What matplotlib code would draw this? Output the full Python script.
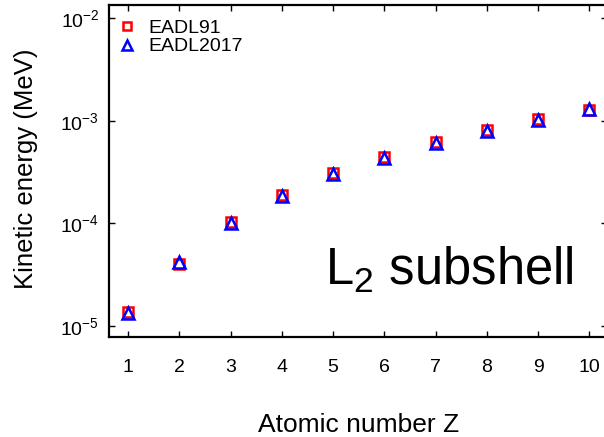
import matplotlib
matplotlib.use("Agg")
import matplotlib.pyplot as plt

plt.rcParams['font.family'] = ['Liberation Sans', 'DejaVu Sans']
plt.rcParams['mathtext.fontset'] = 'custom'
plt.rcParams['mathtext.rm'] = 'Liberation Sans'
plt.rcParams['mathtext.it'] = 'Liberation Sans:italic'
plt.rcParams['mathtext.bf'] = 'Liberation Sans:bold'

# L2 subshell kinetic energies (MeV) vs atomic number
Z = [1, 2, 3, 4, 5, 6, 7, 8, 9, 10]
eadl91 = [1.37e-5, 3.97e-5, 1.03e-4, 1.90e-4, 3.07e-4, 4.45e-4, 6.19e-4, 8.17e-4, 1.04e-3, 1.28e-3]
eadl2017 = [1.34e-5, 4.17e-5, 1.00e-4, 1.84e-4, 3.01e-4, 4.36e-4, 6.05e-4, 7.97e-4, 1.02e-3, 1.29e-3]
labels = ["EADL91", "EADL2017"]
xticks = [1, 2, 3, 4, 5, 6, 7, 8, 9, 10]

W, H = 604, 437
fig = plt.figure(figsize=(W / 100, H / 100), dpi=100)
ax = fig.add_axes([109 / W, 100 / H, 497.5 / W, 332 / H])

ax.plot(Z, eadl91, linestyle='none', marker='s', ms=7.8, mfc='none',
        mec='#ff0000', mew=1.8, label=labels[0])
ax.plot(Z, eadl2017, linestyle='none', marker='^', ms=9.2, mfc='none',
        mec='#0000ff', mew=1.8, label=labels[1])

ax.set_yscale('log')
ax.set_xlim(0.629, 10.336)
ax.set_ylim(10 ** -5.110, 10 ** -1.871)
ax.set_xticks(xticks)
ax.set_xticklabels([str(v) for v in xticks])
ax.minorticks_off()

for s in ax.spines.values():
    s.set_linewidth(1.6)
ax.tick_params(axis='both', which='both', direction='in', top=True, right=True,
               length=4, width=1.0, labelsize=14)
ax.tick_params(axis='x', pad=15.5)
ax.tick_params(axis='y', pad=7)

ax.set_xlabel("Atomic number Z", fontsize=19)
ax.set_ylabel("Kinetic energy (MeV)", fontsize=18.5)
ax.xaxis.set_label_coords(0.5015, -0.228)
ax.yaxis.set_label_coords(-0.142, 0.506)

ax.text(0.434, 0.157, r"L$_\mathrm{2}$ subshell", transform=ax.transAxes,
        fontsize=36.5, ha='left', va='baseline')

ax.legend(loc='upper left', bbox_to_anchor=(0.0173, 0.957), frameon=False,
          fontsize=14, markerscale=0.72, handlelength=0.97,
          handletextpad=0.62, labelspacing=0.05, borderpad=0, borderaxespad=0)

fig.savefig("out.png", dpi=100)
